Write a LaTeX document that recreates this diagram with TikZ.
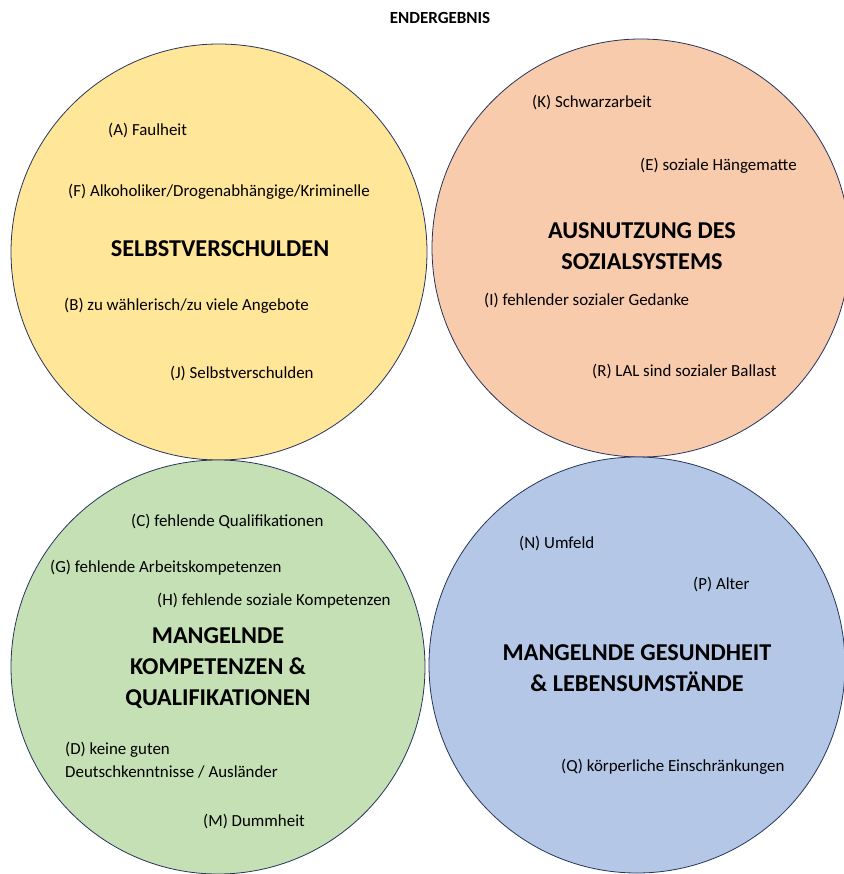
\documentclass[tikz,border=0pt]{standalone}
\usepackage{fontspec}
\setmainfont{Carlito}
\usepackage{tikz}
\usetikzlibrary{positioning}

\definecolor{rand}{HTML}{26345A}
\definecolor{gelb}{HTML}{FFE699}
\definecolor{lachs}{HTML}{F8CBAD}
\definecolor{gruen}{HTML}{C5E0B4}
\definecolor{blau}{HTML}{B4C7E7}

\begin{document}
\begin{tikzpicture}
  [
      x=1pt, y=-1pt,
      kreis/.style={circle, draw=rand, line width=0.8pt, fill=#1, minimum size=416pt, inner sep=0pt},
      punkt/.style={anchor=west, inner sep=0pt, align=left, font=\fontsize{16.9}{23}\selectfont},
      gruppe/.style={inner sep=0pt, align=center, font=\fontsize{24.2}{31}\selectfont\bfseries},
    ]
    \useasboundingbox (0,0) rectangle (843,874);

    \node (titel) [font=\fontsize{17}{20}\selectfont\bfseries] at (440,18) {ENDERGEBNIS};

    % die vier Kreise
    \node (selbst) [kreis=gelb] at (219,252) {};
    \node (sozial) [kreis=lachs, minimum size=418pt] at (641,248) {};
    \node (kompetenz) [kreis=gruen, minimum size=414pt] at (218,667) {};
    \node (gesund) [kreis=blau] at (637,665) {};

    % Selbstverschulden
    \node (a) [punkt] at (108,130) {(A) Faulheit};
    \node (f) [punkt] at (68,192) {(F) Alkoholiker/Drogenabhängige/Kriminelle};
    \node (selbstT) [gruppe] at (220,249) {SELBSTVERSCHULDEN};
    \node (b) [punkt] at (64,306) {(B) zu wählerisch/zu viele Angebote};
    \node (j) [punkt] at (170,373) {(J) Selbstverschulden};

    % Ausnutzung
    \node (k) [punkt] at (532,102) {(K) Schwarzarbeit};
    \node (e) [punkt] at (640,166) {(E) soziale Hängematte};
    \node (sozialT) [gruppe] at (642,246) {AUSNUTZUNG DES\\SOZIALSYSTEMS};
    \node (i) [punkt] at (484,300) {(I) fehlender sozialer Gedanke};
    \node (r) [punkt] at (592,371) {(R) LAL sind sozialer Ballast};

    % Kompetenzen
    \node (c) [punkt] at (131,521) {(C) fehlende Qualifikationen};
    \node (g) [punkt] at (50,568) {(G) fehlende Arbeitskompetenzen};
    \node (h) [punkt] at (157,601) {(H) fehlende soziale Kompetenzen};
    \node (kompetenzT) [gruppe] at (218,668) {MANGELNDE\\KOMPETENZEN \&\\QUALIFIKATIONEN};
    \node (d) [punkt] at (65,760) {(D) keine guten\\Deutschkenntnisse / Ausländer};
    \node (m) [punkt] at (203,821) {(M) Dummheit};

    % Gesundheit
    \node (n) [punkt] at (519,543) {(N) Umfeld};
    \node (p) [punkt] at (693,584) {(P) Alter};
    \node (gesundT) [gruppe] at (637,668) {MANGELNDE GESUNDHEIT\\\& LEBENSUMSTÄNDE};
    \node (q) [punkt] at (561,767) {(Q) körperliche Einschränkungen};
  \end{tikzpicture}
\end{document}
